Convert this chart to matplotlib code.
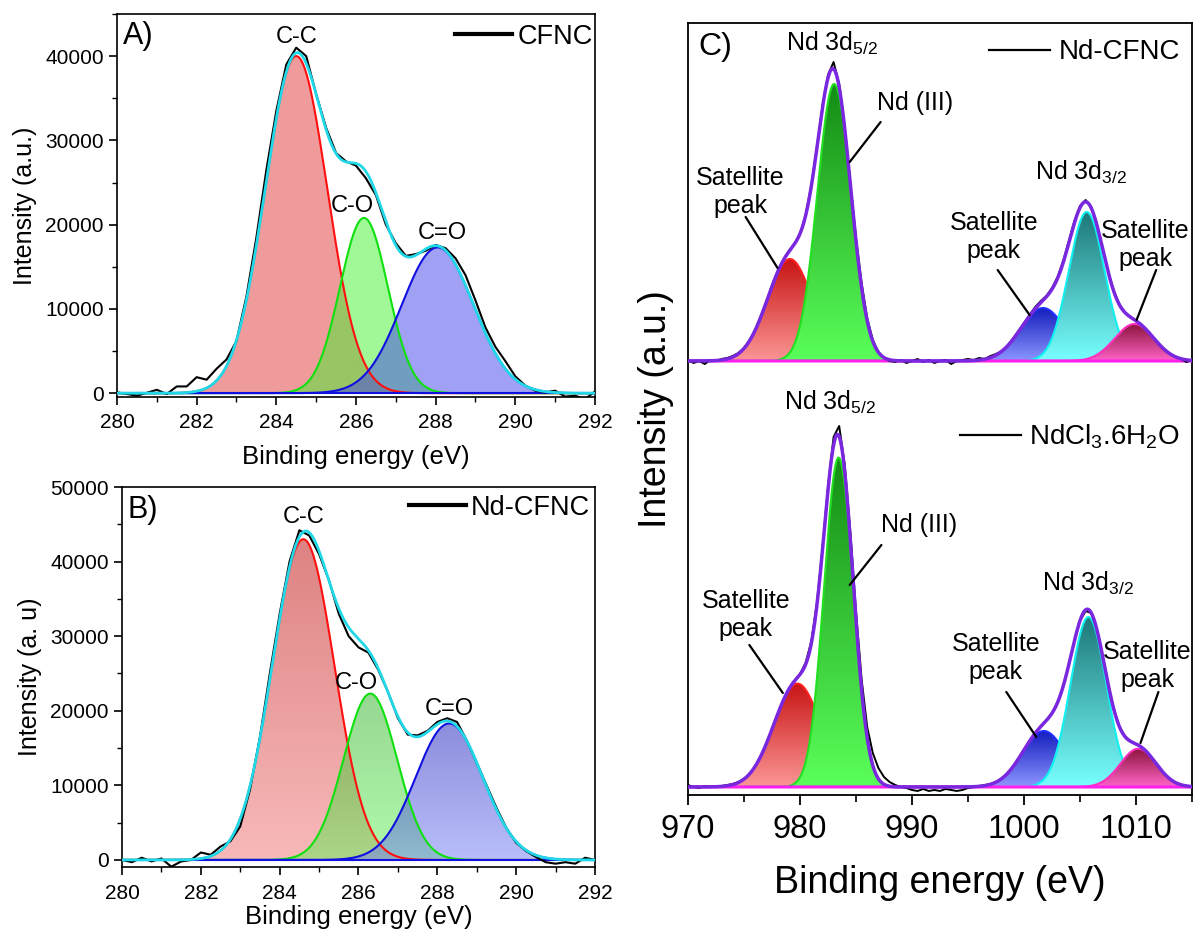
import numpy as np
import matplotlib
matplotlib.use('Agg')
import matplotlib.pyplot as plt
from matplotlib.patches import PathPatch
from matplotlib.lines import Line2D
from matplotlib.ticker import MultipleLocator

plt.rcParams['font.family'] = ['Liberation Sans', 'DejaVu Sans']
plt.rcParams['mathtext.fontset'] = 'custom'
plt.rcParams['mathtext.rm'] = 'Liberation Sans'
plt.rcParams['mathtext.it'] = 'Liberation Sans:italic'
plt.rcParams['mathtext.default'] = 'regular'

# ------------------------------------------------------------------ data
# C 1s spectra (panels A and B), read every 0.25 eV from 280 to 292 eV
c1s_energy = np.arange(280.0, 292.001, 0.25)
cfnc_raw = [100, -100, -300, 50, 400, -100, 800, 800, 1900, 1600,
            2900, 4000, 6200, 11500, 18500, 26500, 33500, 39000, 41000, 40000,
            35500, 31500, 28500, 27500, 27000, 25500, 23500, 20000, 17800, 16300,
            16500, 16900, 17600, 17200, 16000, 14000, 11000, 7800, 5500, 3800,
            2000, 900, 300, 100, 300, -400, -300, -700, 200]
ndcfnc_c1s_raw = [0, -300, 300, -200, 200, -900, -200, 0, 1000, 700,
                  1800, 2500, 4500, 9500, 16500, 25000, 33000, 40000, 44200, 43500,
                  41000, 37500, 33000, 30000, 28500, 27800, 25500, 22500, 19000, 16800,
                  16700, 17300, 18500, 19000, 18500, 16000, 13000, 10000, 7000, 4300,
                  2300, 1200, 400, -300, -500, -300, -500, 300, 0]

# fitted C 1s components (centre eV, height, gaussian sigma eV)
c1s_labels = ['C-C', 'C-O', 'C=O']
cfnc_centre = [284.5, 286.2, 288.05]
cfnc_height = [40000, 20800, 17300]
cfnc_sigma = [0.78, 0.60, 0.90]
ndcfnc_c1s_centre = [284.6, 286.3, 288.3]
ndcfnc_c1s_height = [43000, 22300, 18300]
ndcfnc_c1s_sigma = [0.79, 0.68, 0.85]

# Nd 3d spectra (panel C), read every 0.5 eV from 970 to 1015 eV (a.u.)
nd3d_energy = np.arange(970.0, 1015.001, 0.5)
nd_cfnc_raw = [1, -2, 0, -3, 1, 0, 2, 3, 5, 8,
               13, 21, 31, 45, 60, 76, 90, 101, 110, 117,
               127, 146, 175, 213, 254, 286, 299, 277, 234, 178,
               123, 78, 43, 21, 9, 3, 0, -1, 1, -2,
               0, 2, -1, 1, -2, 0, 1, -3, 0, 1,
               2, 1, 3, 2, 5, 7, 10, 15, 22, 30,
               38, 46, 54, 60, 65, 73, 84, 100, 120, 140,
               155, 161, 154, 137, 114, 90, 71, 57, 49, 44,
               40, 36, 30, 24, 17, 11, 7, 4, 2, -1, 1]
ndcl3_raw = [2, 0, -1, 1, 0, 1, 1, 2, 3, 5,
             8, 13, 21, 31, 44, 58, 73, 87, 98, 106,
             113, 124, 145, 183, 238, 300, 350, 361, 322, 255,
             176, 108, 60, 34, 19, 10, 5, 2, 0, -1,
             -3, -4, -2, -4, -3, -4, -2, -3, -4, -3,
             -1, 0, 1, 2, 3, 5, 8, 13, 20, 28,
             37, 46, 54, 61, 67, 74, 85, 101, 122, 146,
             166, 176, 174, 158, 132, 104, 79, 61, 51, 46,
             43, 40, 35, 28, 20, 13, 8, 4, 2, 1, 0]
nd_offsets = [434, 8]          # vertical offsets of the two stacked spectra

# fitted Nd 3d components: satellite, Nd(III) 3d5/2, satellite, Nd 3d3/2, satellite
nd_cfnc_centre = [979.1, 983.05, 1001.7, 1005.6, 1009.85]
nd_cfnc_height = [102, 277, 53, 149, 37]
nd_cfnc_sigma = [2.0, 1.5, 2.0, 1.6, 1.76]
ndcl3_centre = [979.77, 983.45, 1001.77, 1005.75, 1010.2]
ndcl3_height = [103.4, 329.4, 56, 170, 38.3]
ndcl3_sigma = [2.1, 1.3, 1.93, 1.6, 1.6]


def gauss(x, c, h, s):
    return h * np.exp(-(x - c) ** 2 / (2 * s ** 2))


def grad_fill(ax, x, y, base, c_top, c_bot, alpha=1.0, zorder=1):
    poly = ax.fill_between(x, base, base + y, facecolor='none', edgecolor='none')
    path = poly.get_paths()[0]
    patch = PathPatch(path, transform=ax.transData, facecolor='none', edgecolor='none')
    ax.add_patch(patch)
    top = base + y.max()
    t = np.linspace(0, 1, 256)[:, None]
    ct = np.array(c_top, float) / 255.0
    cb = np.array(c_bot, float) / 255.0
    rgb = cb + (ct - cb) * t
    rgba = np.concatenate([rgb, np.full((256, 1), alpha)], axis=1)[:, None, :]
    im = ax.imshow(rgba, extent=[x.min(), x.max(), base, top], origin='lower',
                   aspect='auto', interpolation='bilinear', zorder=zorder)
    im.set_clip_path(patch)


fig = plt.figure(figsize=(11.95, 9.31), dpi=100)
axA = fig.add_axes([0.0979, 0.5736, 0.400, 0.4114])
axB = fig.add_axes([0.1021, 0.0687, 0.3958, 0.4082])
axC = fig.add_axes([0.5757, 0.1461, 0.4218, 0.8292])

# ------------------------------------------------------------------ panels A, B
c1s_line_cols = ['#FF1010', '#10E010', '#1010E0']
A_fill = [((225, 55, 55), (225, 55, 55)), ((65, 241, 45), (65, 241, 45)),
          ((65, 65, 235), (65, 65, 235))]
B_fill = [((189, 5, 5), (241, 115, 115)), ((45, 175, 35), (95, 245, 85)),
          ((25, 25, 185), (115, 125, 245))]


def c1s_panel(ax, raw, centres, heights, sigmas, fills, legend_label, ylab, ylim,
              ymax_tick, panel, label_pos, leg_anchor, tick_pad, xlabelpad):
    xf = np.linspace(280, 292, 800)
    total = np.zeros_like(xf)
    for i, (c, h, s) in enumerate(zip(centres, heights, sigmas)):
        g = gauss(xf, c, h, s)
        total += g
        grad_fill(ax, xf, g, 0.0, fills[i][0], fills[i][1], alpha=0.5, zorder=1 + i)
        ax.plot(xf, g, color=c1s_line_cols[i], lw=1.5, zorder=5)
    ax.plot(xf, np.zeros_like(xf), color='#1010E0', lw=1.5, zorder=5)
    ax.plot(c1s_energy, raw, color='black', lw=1.5, zorder=6)
    ax.plot(xf, total, color='#20D8E8', lw=2.0, zorder=7)
    for lab, (px, py) in zip(c1s_labels, label_pos):
        ax.text(px, py, lab, fontsize=17, ha='center', va='center', zorder=8)
    ax.text(280.15, panel[1], panel[0], fontsize=22, ha='left', va='center')
    ax.set_xlim(280, 292)
    ax.set_ylim(*ylim)
    ax.xaxis.set_major_locator(MultipleLocator(2))
    ax.xaxis.set_minor_locator(MultipleLocator(1))
    ax.set_yticks(np.arange(0, ymax_tick + 1, 10000))
    ax.yaxis.set_minor_locator(MultipleLocator(5000))
    ax.tick_params(which='major', direction='out', length=6, width=1.2, labelsize=15)
    ax.tick_params(axis='x', which='major', pad=tick_pad)
    ax.tick_params(which='minor', direction='out', length=3.5, width=1.0)
    for sp in ax.spines.values():
        sp.set_linewidth(1.2)
    ax.set_xlabel('Binding energy (eV)', fontsize=18.5, labelpad=xlabelpad)
    ax.set_ylabel(ylab, fontsize=18, labelpad=6)
    h = Line2D([], [], color='black', lw=3)
    ax.legend([h], [legend_label], loc='center right', bbox_to_anchor=leg_anchor,
              frameon=False, fontsize=19.5, handlelength=2.1, handletextpad=0.2,
              borderpad=0, borderaxespad=0)


c1s_panel(axA, cfnc_raw, cfnc_centre, cfnc_height, cfnc_sigma, A_fill, 'CFNC',
          'Intensity (a.u.)', (-450, 45000), 40000, ('A)', 42400),
          [(284.5, 42300), (285.9, 22200), (288.17, 19000)], (0.995, 0.94),
          5.7, 9.5)
c1s_panel(axB, ndcfnc_c1s_raw, ndcfnc_c1s_centre, ndcfnc_c1s_height,
          ndcfnc_c1s_sigma, B_fill, 'Nd-CFNC', 'Intensity (a. u)', (-950, 50000),
          50000, ('B)', 46900),
          [(284.6, 46000), (285.94, 23700), (288.3, 20300)], (0.99, 0.945),
          6.0, 1.5)

# ------------------------------------------------------------------ panel C
nd_fill = [((200, 20, 20), (252, 150, 150)),
           ((20, 140, 20), (90, 255, 90)),
           ((20, 30, 190), (140, 150, 255)),
           ((30, 120, 120), (120, 255, 255)),
           ((140, 20, 60), (255, 100, 200))]
nd_line = ['#FF2020', '#20E020', '#2030FF', '#10F0F0', '#FF30C0']

xc = np.linspace(970, 1015, 1200)
for off, raw, cen, hei, sig in [(nd_offsets[0], nd_cfnc_raw, nd_cfnc_centre, nd_cfnc_height, nd_cfnc_sigma),
                                (nd_offsets[1], ndcl3_raw, ndcl3_centre, ndcl3_height, ndcl3_sigma)]:
    total = np.zeros_like(xc)
    for i, (c, h, s) in enumerate(zip(cen, hei, sig)):
        g = gauss(xc, c, h, s)
        total += g
        grad_fill(axC, xc, g, off, nd_fill[i][0], nd_fill[i][1], alpha=1.0, zorder=1 + i)
        axC.plot(xc, off + g, color=nd_line[i], lw=1.5, zorder=1.5 + i)
    axC.plot(xc, off + np.zeros_like(xc), color='#FF20F0', lw=2.2, zorder=7)
    axC.plot(nd3d_energy, off + np.array(raw, float), color='black', lw=1.4, zorder=8)
    axC.plot(xc, off + total, color='#7A28E0', lw=2.5, zorder=9)

# annotations: (text, text x, text y, line start, line end)
nd_texts = [
    ('Nd 3d$_{5/2}$', 982.9, 752, None, None),
    ('Nd (III)', 990.3, 692, (987.2, 673), (984.44, 633)),
    ('Satellite\npeak', 974.7, 603, (975.15, 578), (978.0, 527)),
    ('Nd 3d$_{3/2}$', 1005.1, 623, None, None),
    ('Satellite\npeak', 997.3, 558, (997.65, 525), (1000.5, 480)),
    ('Satellite\npeak', 1010.85, 550, (1011.8, 525), (1010.05, 475)),
    ('Nd 3d$_{5/2}$', 982.7, 393, None, None),
    ('Nd (III)', 990.66, 270, (987.27, 250), (984.44, 210)),
    ('Satellite\npeak', 975.15, 180, (975.48, 150), (978.47, 102)),
    ('Nd 3d$_{3/2}$', 1005.7, 212, None, None),
    ('Satellite\npeak', 997.5, 137, (998.42, 103), (1001.1, 58)),
    ('Satellite\npeak', 1011.0, 129, (1012.0, 103), (1010.4, 52)),
]
for txt, tx, ty, p0, p1 in nd_texts:
    axC.text(tx, ty, txt, fontsize=18, ha='center', va='center', zorder=10)
    if p0 is not None:
        axC.annotate('', xy=p1, xytext=p0,
                     arrowprops=dict(arrowstyle='-', lw=1.6, color='black',
                                     shrinkA=0, shrinkB=0), zorder=10)
axC.text(970.9, 748, 'C)', fontsize=23, ha='left', va='center')

axC.set_xlim(970, 1015)
axC.set_ylim(0, 772)
axC.set_yticks([])
axC.xaxis.set_major_locator(MultipleLocator(10))
axC.xaxis.set_minor_locator(MultipleLocator(5))
axC.tick_params(which='major', direction='out', length=7.5, width=1.3, labelsize=23.5, pad=6.5)
axC.tick_params(which='minor', direction='out', length=5, width=1.2)
for sp in axC.spines.values():
    sp.set_linewidth(1.3)
axC.set_xlabel('Binding energy (eV)', fontsize=27, labelpad=14)
axC.set_ylabel('Intensity (a.u.)', fontsize=27, labelpad=10)

hC = Line2D([], [], color='black', lw=1.6)
leg1 = axC.legend([hC], ['Nd-CFNC'], loc='center right', bbox_to_anchor=(0.976, 0.962),
                  frameon=False, fontsize=20, handlelength=2.2, handletextpad=0.3,
                  borderpad=0, borderaxespad=0)
axC.add_artist(leg1)
axC.legend([hC], ['NdCl$_3$.6H$_2$O'], loc='center right', bbox_to_anchor=(0.976, 0.4637),
           frameon=False, fontsize=20, handlelength=2.2, handletextpad=0.3,
           borderpad=0, borderaxespad=0)

fig.savefig('out.png', dpi=100)
